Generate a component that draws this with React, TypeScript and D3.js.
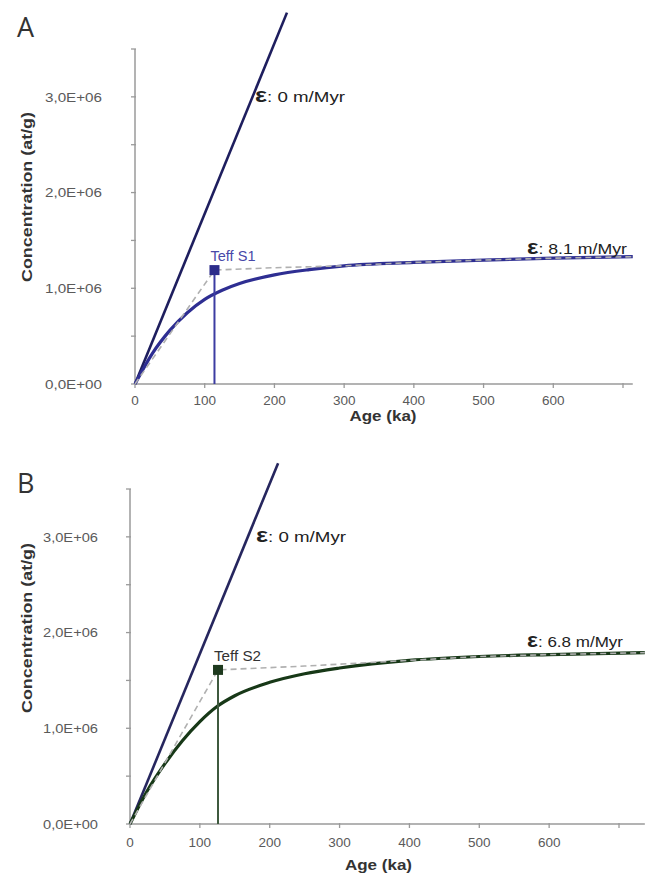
import React from "react";
import * as d3 from "d3";

// ---- Data ----
const yTickValues = [0, 1e6, 2e6, 3e6];
const yTickLabels = ["0,0E+00", "1,0E+06", "2,0E+06", "3,0E+06"];
const yMinorTicks = [0, 0.5e6, 1e6, 1.5e6, 2e6, 2.5e6, 3e6, 3.5e6];
const xTickValues = [0, 100, 200, 300, 400, 500, 600, 700];
const xTickLabels = ["0", "100", "200", "300", "400", "500", "600", ""];

// Panel A
const zeroAgesA = [0, 218];
const zeroConcA = [0, 3.88e6];
const curveAgesA = [0, 25, 50, 75, 100, 125, 150, 200, 250, 300, 400, 500, 600, 714];
const curveConcA = [0, 0.32e6, 0.56e6, 0.745e6, 0.885e6, 0.98e6, 1.05e6, 1.14e6, 1.195e6, 1.235e6, 1.27e6, 1.295e6, 1.315e6, 1.33e6];
const dashAgesA = [0, 114, 200, 300, 400, 500, 600, 714];
const dashConcA = [0, 1.19e6, 1.215e6, 1.235e6, 1.27e6, 1.295e6, 1.315e6, 1.33e6];
const teffA = { age: 114, conc: 1.19e6, label: "Teff S1" };
const erosionA = "8.1 m/Myr";

// Panel B
const zeroAgesB = [0, 212];
const zeroConcB = [0, 3.77e6];
const curveAgesB = [0, 25, 50, 75, 100, 125, 150, 200, 250, 300, 400, 500, 600, 737];
const curveConcB = [0, 0.35e6, 0.63e6, 0.87e6, 1.07e6, 1.23e6, 1.34e6, 1.48e6, 1.57e6, 1.63e6, 1.71e6, 1.75e6, 1.77e6, 1.79e6];
const dashAgesB = [0, 126, 250, 400, 500, 600, 737];
const dashConcB = [0, 1.61e6, 1.65e6, 1.71e6, 1.75e6, 1.77e6, 1.79e6];
const teffB = { age: 126, conc: 1.61e6, label: "Teff S2" };
const erosionB = "6.8 m/Myr";

const FONT = "'Liberation Sans', Arial, sans-serif";

type PanelProps = {
  letter: string;
  letterY: number;
  x0: number; x700: number; xMaxAge: number;
  yBottom: number; yTop: number;
  zeroAges: number[]; zeroConc: number[];
  curveAges: number[]; curveConc: number[];
  dashAges: number[]; dashConc: number[];
  teff: { age: number; conc: number; label: string };
  erosion: string;
  curveColor: string; zeroColor: string; vColor: string; sqColor: string; teffColor: string;
  yTitleCenter: number;
  yLabelRight: number;
  yLabelWidth: number;
  xLabelBaseline: number;
  xTitleBaseline: number;
  erosionLabel: { x: number; y: number; w: number };
  zeroLabel: { x: number; y: number; w: number };
  teffW: number;
};

function Panel(p: PanelProps) {
  const x = d3.scaleLinear().domain([0, 700]).range([p.x0, p.x700]);
  const y = d3.scaleLinear().domain([0, 3.5e6]).range([p.yBottom, p.yTop]);
  const line = d3.line<[number, number]>().x((d) => x(d[0])).y((d) => y(d[1]));
  const curveLine = d3.line<[number, number]>().x((d) => x(d[0])).y((d) => y(d[1])).curve(d3.curveMonotoneX);
  const zip = (a: number[], b: number[]) => a.map((v, i) => [v, b[i]] as [number, number]);
  const axisColor = "#9a9a9a";
  const tickText = "#5a5a5a";
  return (
    <g>
      <text x={17} y={p.letterY} fontFamily="'Open Sans', sans-serif" fontSize={27} fill="#333">{p.letter}</text>
      {/* y axis */}
      <line x1={x(0)} x2={x(0)} y1={y(0)} y2={y(3.5e6)} stroke={axisColor} strokeWidth={1.5} />
      {yMinorTicks.map((v) => (
        <line key={v} x1={x(0) - 4} x2={x(0) + 1} y1={y(v)} y2={y(v)} stroke={axisColor} strokeWidth={1.3} />
      ))}
      {yTickValues.map((v, i) => (
        <text key={v} x={p.yLabelRight - p.yLabelWidth} y={y(v)} dy="0.35em" textLength={p.yLabelWidth} lengthAdjust="spacingAndGlyphs" fontFamily={FONT} fontSize={13.5} fill={tickText}>{yTickLabels[i]}</text>
      ))}
      {/* x axis */}
      <line x1={x(0)} x2={x(p.xMaxAge)} y1={y(0)} y2={y(0)} stroke={axisColor} strokeWidth={1.5} />
      {xTickValues.map((v) => (
        <line key={v} x1={x(v)} x2={x(v)} y1={y(0) - 1} y2={y(0) + 4} stroke={axisColor} strokeWidth={1.3} />
      ))}
      {xTickValues.map((v, i) => (
        <text key={v} x={x(v)} y={p.xLabelBaseline} textAnchor="middle" fontFamily={FONT} fontSize={13.5} fill={tickText}>{xTickLabels[i]}</text>
      ))}
      <text x={x(355) - 33} y={p.xTitleBaseline} textLength={67} lengthAdjust="spacingAndGlyphs" fontFamily={FONT} fontWeight="bold" fontSize={15.5} fill="#333">Age (ka)</text>
      <text transform={`translate(32,${p.yTitleCenter + 85}) rotate(-90)`} textLength={170} lengthAdjust="spacingAndGlyphs" fontFamily={FONT} fontWeight="bold" fontSize={15.5} fill="#333">Concentration (at/g)</text>
      {/* zero erosion line */}
      <path d={line(zip(p.zeroAges, p.zeroConc)) || ""} fill="none" stroke={p.zeroColor} strokeWidth={2.6} />
      {/* curve */}
      <path d={curveLine(zip(p.curveAges, p.curveConc)) || ""} fill="none" stroke={p.curveColor} strokeWidth={3.2} />
      {/* dashed construction line */}
      <path d={line(zip(p.dashAges, p.dashConc)) || ""} fill="none" stroke="#b0b0b0" strokeWidth={1.6} strokeDasharray="6,4" />
      {/* Teff vertical and marker */}
      <line x1={x(p.teff.age)} x2={x(p.teff.age)} y1={y(0)} y2={y(p.teff.conc)} stroke={p.vColor} strokeWidth={2} />
      <rect x={x(p.teff.age) - 5} y={y(p.teff.conc) - 5} width={10} height={10} fill={p.sqColor} />
      <text x={x(p.teff.age) - 4} y={y(p.teff.conc) - 9} textLength={p.teffW} lengthAdjust="spacingAndGlyphs" fontFamily={FONT} fontSize={14} fill={p.teffColor}>{p.teff.label}</text>
      {/* labels */}
      <text x={p.zeroLabel.x} y={p.zeroLabel.y} textLength={p.zeroLabel.w} lengthAdjust="spacingAndGlyphs" fontFamily={FONT} fontSize={15.5} fill="#222">
        <tspan fontSize={21} fontWeight="bold">ε</tspan>: 0 m/Myr
      </text>
      <text x={p.erosionLabel.x} y={p.erosionLabel.y} textLength={p.erosionLabel.w} lengthAdjust="spacingAndGlyphs" fontFamily={FONT} fontSize={15.5} fill="#222">
        <tspan fontSize={21} fontWeight="bold">ε</tspan>: {p.erosion}
      </text>
    </g>
  );
}

export default function App() {
  return (
    <svg width={646} height={875} style={{ position: "absolute", left: 0, top: 0, background: "#fff" }}>
      <rect width={646} height={875} fill="#fff" />
      <Panel
        letter="A" letterY={37}
        x0={135} x700={623} xMaxAge={714}
        yBottom={384} yTop={49}
        zeroAges={zeroAgesA} zeroConc={zeroConcA}
        curveAges={curveAgesA} curveConc={curveConcA}
        dashAges={dashAgesA} dashConc={dashConcA}
        teff={teffA} erosion={erosionA}
        curveColor="#2e2e92" zeroColor="#1e1e5e" vColor="#3c3ca2" sqColor="#2c2c8a" teffColor="#4848a8"
        yTitleCenter={197} yLabelRight={102} yLabelWidth={57}
        xLabelBaseline={405} xTitleBaseline={421}
        erosionLabel={{ x: 527, y: 254, w: 100 }} zeroLabel={{ x: 255, y: 102, w: 90 }}
        teffW={45}
      />
      <Panel
        letter="B" letterY={493}
        x0={130} x700={619} xMaxAge={737}
        yBottom={824} yTop={489}
        zeroAges={zeroAgesB} zeroConc={zeroConcB}
        curveAges={curveAgesB} curveConc={curveConcB}
        dashAges={dashAgesB} dashConc={dashConcB}
        teff={teffB} erosion={erosionB}
        curveColor="#173817" zeroColor="#26265e" vColor="#3f5a3f" sqColor="#1e3a1e" teffColor="#333"
        yTitleCenter={628} yLabelRight={98} yLabelWidth={55}
        xLabelBaseline={847} xTitleBaseline={870}
        erosionLabel={{ x: 527, y: 647, w: 96 }} zeroLabel={{ x: 256, y: 542, w: 90 }}
        teffW={47}
      />
    </svg>
  );
}
